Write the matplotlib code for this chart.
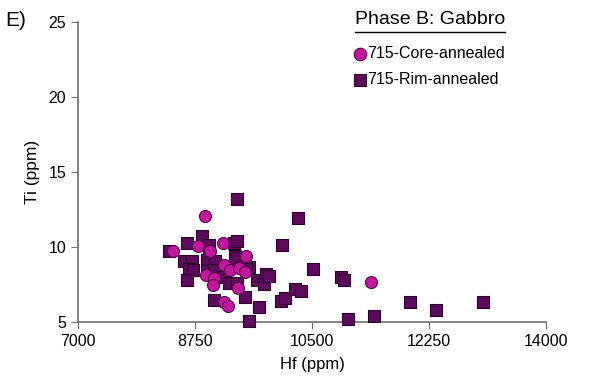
import matplotlib.pyplot as plt
from matplotlib.lines import Line2D

# 715-Core-annealed (circles)
coreHf = [8895, 8795, 9165, 8420, 8980, 9510, 9180, 9280, 9410, 9500,
          8915, 9030, 9020, 9390, 9190, 9245, 11380]
coreTi = [12.05, 10.08, 10.26, 9.71, 9.75, 9.40, 8.80, 8.47, 8.62, 8.35,
          8.16, 7.94, 7.49, 7.27, 6.32, 6.06, 7.67]

# 715-Rim-annealed (squares)
rimHf = [9380, 10290, 10055, 8850, 8635, 8955, 9340, 9380, 8360, 8955,
         9355, 8580, 8700, 8930, 9055, 9380, 8665, 8715, 8930, 9030,
         9555, 9520, 8630, 9175, 9255, 9380, 9680, 9805, 9780, 9855,
         9495, 9030, 9700, 9555, 10040, 10090, 10245, 10340, 10520, 10930,
         10980, 11040, 11420, 11965, 12355, 13055]
rimTi = [13.2, 11.96, 10.12, 10.76, 10.28, 10.13, 10.26, 10.37, 9.72, 9.6,
         9.37, 9.04, 9.04, 9.15, 9.04, 9.27, 8.55, 8.44, 8.38, 8.49,
         8.65, 8.55, 7.8, 8.02, 7.6, 7.6, 7.78, 8.2, 7.55, 8.04,
         6.7, 6.45, 6.03, 5.05, 6.38, 6.58, 7.2, 7.05, 8.53, 8.0,
         7.83, 5.23, 5.38, 6.32, 5.79, 6.34]

xTicks = [7000, 8750, 10500, 12250, 14000]
yTicks = [5, 10, 15, 20, 25]

plt.rcParams['font.family'] = ['Liberation Sans', 'DejaVu Sans']

fig = plt.figure(figsize=(5.91, 3.85), dpi=100)
ax = fig.add_axes([78 / 591, 1 - 322 / 385, (546 - 78) / 591, 300 / 385])

coreColor = '#c2169c'
rimColor = '#5e0a5c'

ax.scatter(rimHf, rimTi, marker='s', s=80, c=rimColor, edgecolors='#2a0028',
           linewidths=0.8, zorder=3, clip_on=False)
ax.scatter(coreHf, coreTi, marker='o', s=75, c=coreColor, edgecolors='#5a0050',
           linewidths=0.8, zorder=4, clip_on=False)

ax.set_xlim(7000, 14000)
ax.set_ylim(5, 25)
ax.set_xticks(xTicks)
ax.set_yticks(yTicks)
ax.tick_params(labelsize=11.5, length=5, color='#707070', direction='out')

for side in ['top', 'right']:
  ax.spines[side].set_visible(False)
for side in ['left', 'bottom']:
  ax.spines[side].set_color('#707070')
  ax.spines[side].set_linewidth(1.2)

ax.set_xlabel('Hf (ppm)', fontsize=12, labelpad=6)
ax.set_ylabel('Ti (ppm)', fontsize=12.5, labelpad=6)

fig.text(5 / 591, 1 - 20 / 385, 'E)', fontsize=15, va='center', ha='left')

# legend block
fig.text(355 / 591, 1 - 20 / 385, 'Phase B: Gabbro', fontsize=14, va='center', ha='left')
fig.add_artist(Line2D([355 / 591, 505 / 591], [1 - 32 / 385, 1 - 32 / 385],
                      color='black', linewidth=1.0))
fig.add_artist(Line2D([360 / 591], [1 - 54 / 385], marker='o', markersize=9,
                      markerfacecolor=coreColor, markeredgecolor='#5a0050',
                      markeredgewidth=0.8, linestyle='none'))
fig.text(367 / 591, 1 - 54 / 385, '715-Core-annealed', fontsize=11.5, va='center', ha='left')
fig.add_artist(Line2D([360 / 591], [1 - 80 / 385], marker='s', markersize=9,
                      markerfacecolor=rimColor, markeredgecolor='#2a0028',
                      markeredgewidth=0.8, linestyle='none'))
fig.text(367 / 591, 1 - 80 / 385, '715-Rim-annealed', fontsize=11.5, va='center', ha='left')

fig.savefig('out.png', dpi=100)
